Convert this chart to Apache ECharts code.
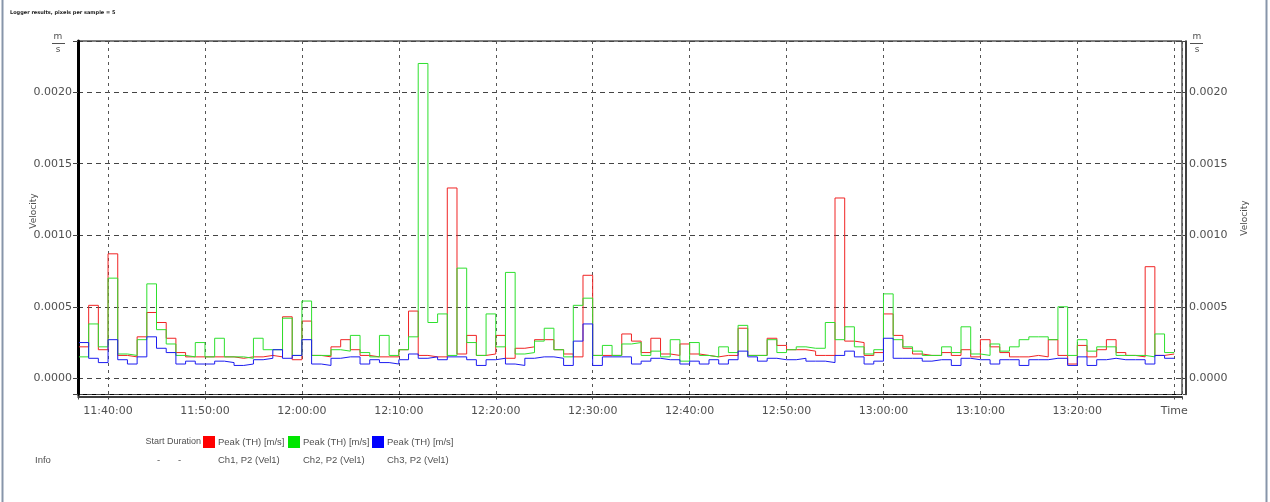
<!DOCTYPE html>
<html><head><meta charset="utf-8">
<script src="https://cdn.jsdelivr.net/npm/echarts@6/dist/echarts.min.js"></script>
<style>html,body{margin:0;padding:0;background:#fff}#c{width:1270px;height:502px}</style>
</head><body><div id="c"></div>
<script>
// time: minutes relative to 11:40:00, one sample per minute starting at 11:37
const startMinute = -3;
const xTickLabels = ['11:40:00','11:50:00','12:00:00','12:10:00','12:20:00','12:30:00','12:40:00','12:50:00','13:00:00','13:10:00','13:20:00','Time'];
const yTickLabels = ['0.0000','0.0005','0.0010','0.0015','0.0020'];

const ch1Red = [
0.00022,0.00051,0.00020,0.00087,0.00016,0.00015,0.00029,0.00046,0.00039,0.00028,
0.00018,0.00015,0.00015,0.00015,0.00015,0.00015,0.00014,0.00015,0.00015,0.00016,
0.00015,0.00043,0.00013,0.00040,0.00016,0.00015,0.00022,0.00027,0.00020,0.00016,
0.00015,0.00015,0.00015,0.00020,0.00047,0.00016,0.00015,0.00015,0.00133,0.00017,
0.00030,0.00016,0.00017,0.00030,0.00014,0.00021,0.00022,0.00027,0.00027,0.00020,
0.00017,0.00015,0.00072,0.00016,0.00016,0.00016,0.00031,0.00026,0.00018,0.00028,
0.00017,0.00016,0.00024,0.00017,0.00016,0.00015,0.00016,0.00016,0.00035,0.00016,
0.00016,0.00028,0.00023,0.00020,0.00020,0.00019,0.00016,0.00016,0.00126,0.00026,
0.00025,0.00016,0.00018,0.00045,0.00030,0.00021,0.00017,0.00016,0.00016,0.00018,
0.00016,0.00020,0.00015,0.00027,0.00022,0.00018,0.00015,0.00015,0.00016,0.00015,
0.00027,0.00016,0.00010,0.00023,0.00015,0.00020,0.00027,0.00018,0.00016,0.00015,
0.00078,0.00016,0.00017];
const ch2Green = [
0.00015,0.00038,0.00022,0.00070,0.00017,0.00016,0.00027,0.00066,0.00034,0.00024,
0.00016,0.00015,0.00025,0.00015,0.00028,0.00015,0.00015,0.00014,0.00028,0.00020,
0.00020,0.00042,0.00016,0.00054,0.00016,0.00016,0.00020,0.00019,0.00030,0.00018,
0.00015,0.00030,0.00016,0.00020,0.00029,0.00220,0.00039,0.00045,0.00016,0.00077,
0.00025,0.00016,0.00045,0.00022,0.00074,0.00017,0.00018,0.00026,0.00035,0.00020,
0.00015,0.00051,0.00056,0.00016,0.00023,0.00016,0.00024,0.00025,0.00016,0.00019,
0.00015,0.00027,0.00012,0.00025,0.00016,0.00015,0.00022,0.00018,0.00037,0.00016,
0.00016,0.00027,0.00018,0.00020,0.00022,0.00021,0.00021,0.00039,0.00027,0.00036,
0.00022,0.00017,0.00020,0.00059,0.00027,0.00022,0.00019,0.00016,0.00016,0.00022,
0.00018,0.00036,0.00017,0.00016,0.00024,0.00019,0.00022,0.00027,0.00029,0.00029,
0.00027,0.00050,0.00016,0.00027,0.00019,0.00022,0.00022,0.00016,0.00016,0.00016,
0.00015,0.00031,0.00018];
const ch3Blue = [
0.00025,0.00014,0.00011,0.00027,0.00013,0.00010,0.00015,0.00029,0.00021,0.00018,
0.00010,0.00012,0.00010,0.00010,0.00012,0.00011,0.00009,0.00010,0.00013,0.00014,
0.00020,0.00014,0.00016,0.00027,0.00010,0.00009,0.00014,0.00015,0.00015,0.00010,
0.00013,0.00011,0.00010,0.00013,0.00017,0.00014,0.00015,0.00013,0.00015,0.00015,
0.00013,0.00009,0.00013,0.00014,0.00010,0.00009,0.00014,0.00015,0.00015,0.00014,
0.00009,0.00026,0.00038,0.00009,0.00015,0.00015,0.00015,0.00010,0.00012,0.00014,
0.00013,0.00013,0.00010,0.00012,0.00010,0.00013,0.00010,0.00013,0.00019,0.00015,
0.00012,0.00014,0.00013,0.00013,0.00014,0.00012,0.00012,0.00011,0.00016,0.00019,
0.00015,0.00010,0.00012,0.00028,0.00014,0.00014,0.00014,0.00012,0.00013,0.00013,
0.00009,0.00014,0.00013,0.00013,0.00010,0.00013,0.00013,0.00009,0.00013,0.00013,
0.00014,0.00014,0.00009,0.00015,0.00009,0.00013,0.00014,0.00013,0.00013,0.00013,
0.00010,0.00016,0.00014];

function stepData(vals){
  const d = vals.map((v,i)=>[startMinute+i, v]);
  d.push([startMinute+vals.length, vals[vals.length-1]]);
  return d;
}
function xFmt(v){
  const k = Math.round(v/10);
  if (Math.abs(v-k*10) > 1e-6 || k < 0 || k >= xTickLabels.length) return '';
  return xTickLabels[k];
}
function yFmt(v){
  const k = Math.round(v/0.0005);
  if (Math.abs(v-k*0.0005) > 1e-9 || k < 0 || k >= yTickLabels.length) return '';
  return yTickLabels[k];
}
const FONT = 'DejaVu Sans';
const TXT = '#505050';
const chart = echarts.init(document.getElementById('c'), null, {renderer:'canvas'});
const yBase = {
  type:'value', min:-0.000113, max:0.002357, splitNumber:5,
  axisLabel:{formatter:yFmt, color:TXT, fontSize:11, fontFamily:FONT}
};
chart.setOption({
  animation:false,
  backgroundColor:'#fff',
  grid:{left:78, right:88, top:41, bottom:107.5, show:true, borderColor:'#000', borderWidth:1},
  xAxis:{
    type:'value', min:-3.1, max:110.8, splitNumber:11,
    axisLine:{show:true, onZero:false, lineStyle:{color:'#000', width:1.5}}, offset:2,
    axisTick:{show:true, length:3, lineStyle:{color:'#444'}},
    axisLabel:{formatter:xFmt, color:TXT, fontSize:11, fontFamily:FONT, margin:9},
    splitLine:{show:true, lineStyle:{type:[3,4], color:'#555', width:1}}
  },
  yAxis:[
    Object.assign({}, yBase, {position:'left',
      axisLine:{show:true, onZero:false, lineStyle:{color:'#000', width:3}},
      axisTick:{show:true, length:5, lineStyle:{color:'#444'}},
      axisLabel:Object.assign({}, yBase.axisLabel, {margin:6}),
      splitLine:{show:true, lineStyle:{type:[5,4], color:'#444', width:1}}}),
    Object.assign({}, yBase, {position:'right', offset:4,
      axisLine:{show:true, onZero:false, lineStyle:{color:'#000', width:1.5}},
      axisTick:{show:true, length:3, inside:true, lineStyle:{color:'#444'}},
      axisLabel:Object.assign({}, yBase.axisLabel, {margin:3}),
      splitLine:{show:false}})
  ],
  series:[
    {name:'Ch1', type:'line', step:'end', showSymbol:false, data:stepData(ch1Red), lineStyle:{color:'#f02424', width:1}, itemStyle:{color:'#f02424'}},
    {name:'Ch2', type:'line', step:'end', showSymbol:false, data:stepData(ch2Green), lineStyle:{color:'#2ee02e', width:1}, itemStyle:{color:'#2ee02e'}},
    {name:'Ch3', type:'line', step:'end', showSymbol:false, data:stepData(ch3Blue), lineStyle:{color:'#1c1cf0', width:1}, itemStyle:{color:'#1c1cf0'}}
  ],
  graphic:[
    {type:'line', shape:{x1:2.5,y1:0,x2:2.5,y2:502}, style:{stroke:'#8795aa', lineWidth:2}},
    {type:'line', shape:{x1:1266.5,y1:0,x2:1266.5,y2:502}, style:{stroke:'#8795aa', lineWidth:2}},
    {type:'text', left:10, top:10, style:{text:'Logger results, pixels per sample = 5', font:'bold 5px "DejaVu Sans"', fill:'#222'}},
    {type:'text', x:34, y:211, rotation:Math.PI/2, style:{text:'Velocity', font:'9px "DejaVu Sans"', fill:TXT, align:'center', verticalAlign:'middle'}},
    {type:'text', x:1245, y:218, rotation:Math.PI/2, style:{text:'Velocity', font:'9px "DejaVu Sans"', fill:TXT, align:'center', verticalAlign:'middle'}},
    {type:'text', x:58, y:37, style:{text:'m', font:'9px "DejaVu Sans"', fill:TXT, align:'center', verticalAlign:'middle'}},
    {type:'line', shape:{x1:52,y1:43.5,x2:65,y2:43.5}, style:{stroke:TXT, lineWidth:1}},
    {type:'text', x:58, y:50, style:{text:'s', font:'9px "DejaVu Sans"', fill:TXT, align:'center', verticalAlign:'middle'}},
    {type:'text', x:1197, y:37, style:{text:'m', font:'9px "DejaVu Sans"', fill:TXT, align:'center', verticalAlign:'middle'}},
    {type:'line', shape:{x1:1190,y1:43.5,x2:1203,y2:43.5}, style:{stroke:TXT, lineWidth:1}},
    {type:'text', x:1197, y:50, style:{text:'s', font:'9px "DejaVu Sans"', fill:TXT, align:'center', verticalAlign:'middle'}},
    {type:'text', x:201, y:442, style:{text:'Start Duration', font:'9px "Liberation Sans"', fill:TXT, align:'right', verticalAlign:'middle'}},
    {type:'rect', shape:{x:203,y:436,width:12,height:12}, style:{fill:'#ff0000'}},
    {type:'text', x:218, y:442, style:{text:'Peak (TH) [m/s]', font:'9.5px "Liberation Sans"', fill:TXT, verticalAlign:'middle'}},
    {type:'rect', shape:{x:288,y:436,width:12,height:12}, style:{fill:'#00e600'}},
    {type:'text', x:303, y:442, style:{text:'Peak (TH) [m/s]', font:'9.5px "Liberation Sans"', fill:TXT, verticalAlign:'middle'}},
    {type:'rect', shape:{x:372,y:436,width:12,height:12}, style:{fill:'#0000ff'}},
    {type:'text', x:387, y:442, style:{text:'Peak (TH) [m/s]', font:'9.5px "Liberation Sans"', fill:TXT, verticalAlign:'middle'}},
    {type:'text', x:35, y:460, style:{text:'Info', font:'9.5px "Liberation Sans"', fill:TXT, verticalAlign:'middle'}},
    {type:'text', x:157, y:460, style:{text:'-', font:'9.5px "Liberation Sans"', fill:TXT, verticalAlign:'middle'}},
    {type:'text', x:178, y:460, style:{text:'-', font:'9.5px "Liberation Sans"', fill:TXT, verticalAlign:'middle'}},
    {type:'text', x:218, y:460, style:{text:'Ch1, P2 (Vel1)', font:'9.5px "Liberation Sans"', fill:TXT, verticalAlign:'middle'}},
    {type:'text', x:303, y:460, style:{text:'Ch2, P2 (Vel1)', font:'9.5px "Liberation Sans"', fill:TXT, verticalAlign:'middle'}},
    {type:'text', x:387, y:460, style:{text:'Ch3, P2 (Vel1)', font:'9.5px "Liberation Sans"', fill:TXT, verticalAlign:'middle'}}
  ]
});
</script></body></html>
